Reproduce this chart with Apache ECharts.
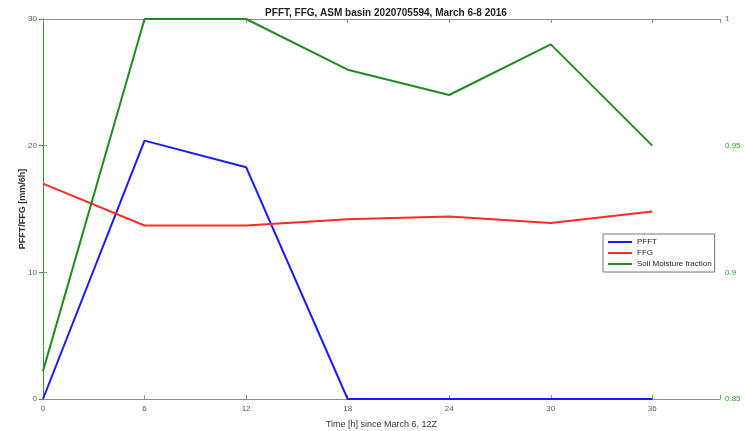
<!DOCTYPE html>
<html>
<head>
<meta charset="utf-8">
<script src="https://cdn.jsdelivr.net/npm/echarts@6/dist/echarts.min.js"></script>
<style>
  html, body { margin: 0; padding: 0; background: #fff; }
  #chart { width: 745px; height: 431px; }
</style>
</head>
<body>
<div id="chart"></div>
<script>
// hours since March 6, 12Z
var hours = [0, 6, 12, 18, 24, 30, 36];
var pfft = [0, 20.4, 18.3, 0, 0, 0, 0];
var ffg = [17.0, 13.7, 13.7, 14.2, 14.4, 13.9, 14.8];
var soil = [0.861, 1.0, 1.0, 0.980, 0.970, 0.990, 0.950];

function pairs(vals) {
  return hours.map(function (h, i) { return [h, vals[i]]; });
}

var chart = echarts.init(document.getElementById('chart'));
var grey = '#8c8c8c';
var txt = '#333';
var green = '#2e9a2e';

chart.setOption({
  animation: false,
  title: {
    text: 'PFFT, FFG, ASM basin 2020705594, March 6-8 2016',
    left: 381,
    textAlign: 'center',
    top: 3,
    textStyle: { fontFamily: 'Liberation Sans', fontSize: 10, fontWeight: 'bold', color: '#222' }
  },
  grid: { left: 43, right: 25, top: 19, bottom: 32, outerBoundsMode: 'none' },
  legend: {
    orient: 'vertical',
    left: 603,
    top: 234,
    padding: [4, 3, 4, 5],
    itemGap: 3,
    itemWidth: 24,
    itemHeight: 2,
    icon: 'rect',
    borderColor: '#777',
    borderWidth: 1,
    backgroundColor: '#fff',
    textStyle: { fontFamily: 'Liberation Sans', fontSize: 8, color: '#222' },
    data: ['PFFT', 'FFG', 'Soil Moisture fraction']
  },
  xAxis: [{
    type: 'value',
    min: 0,
    max: 40,
    interval: 6,
    name: 'Time [h] since March 6, 12Z',
    nameLocation: 'middle',
    nameGap: 21,
    nameMoveOverlap: false,
    nameTextStyle: { fontFamily: 'Liberation Sans', fontSize: 9, color: txt },
    axisLine: { lineStyle: { color: grey } },
    axisTick: { inside: true, length: 4, lineStyle: { color: grey } },
    axisLabel: {
      fontFamily: 'Liberation Sans', fontSize: 8, color: '#555', margin: 6,
      formatter: function (v) { return v > 36 ? '' : v; }
    },
    splitLine: { show: false }
  }, {
    type: 'value',
    position: 'top',
    min: 0,
    max: 40,
    interval: 6,
    axisLine: { lineStyle: { color: grey } },
    axisTick: { inside: true, length: 4, lineStyle: { color: grey } },
    axisLabel: { show: false },
    splitLine: { show: false }
  }],
  yAxis: [{
    type: 'value',
    min: 0,
    max: 30,
    interval: 10,
    name: 'PFFT/FFG [mm/6h]',
    nameLocation: 'middle',
    nameGap: 16,
    nameMoveOverlap: false,
    nameTextStyle: { fontFamily: 'Liberation Sans', fontSize: 9, fontWeight: 'bold', color: txt },
    axisLine: { show: true, lineStyle: { color: grey } },
    axisTick: { show: true, inside: true, length: 4, lineStyle: { color: grey } },
    axisLabel: { fontFamily: 'Liberation Sans', fontSize: 8, color: '#555', margin: 6 },
    splitLine: { show: false }
  }, {
    type: 'value',
    position: 'right',
    min: 0.85,
    max: 1,
    interval: 0.05,
    axisLine: { show: true, lineStyle: { color: green } },
    axisTick: { show: true, inside: true, length: 4, lineStyle: { color: green } },
    axisLabel: {
      fontFamily: 'Liberation Sans', fontSize: 8, color: green, margin: 5,
      formatter: function (v) { return +v.toFixed(2); }
    },
    splitLine: { show: false }
  }],
  series: [{
    name: 'PFFT',
    type: 'line',
    data: pairs(pfft),
    symbol: 'none',
    lineStyle: { width: 2, color: '#1a1aff' },
    itemStyle: { color: '#1a1aff' }
  }, {
    name: 'FFG',
    type: 'line',
    data: pairs(ffg),
    symbol: 'none',
    lineStyle: { width: 2, color: '#ff2a2a' },
    itemStyle: { color: '#ff2a2a' }
  }, {
    name: 'Soil Moisture fraction',
    type: 'line',
    yAxisIndex: 1,
    data: pairs(soil),
    symbol: 'none',
    lineStyle: { width: 2, color: '#1e8c1e' },
    itemStyle: { color: '#1e8c1e' }
  }]
});
</script>
</body>
</html>
